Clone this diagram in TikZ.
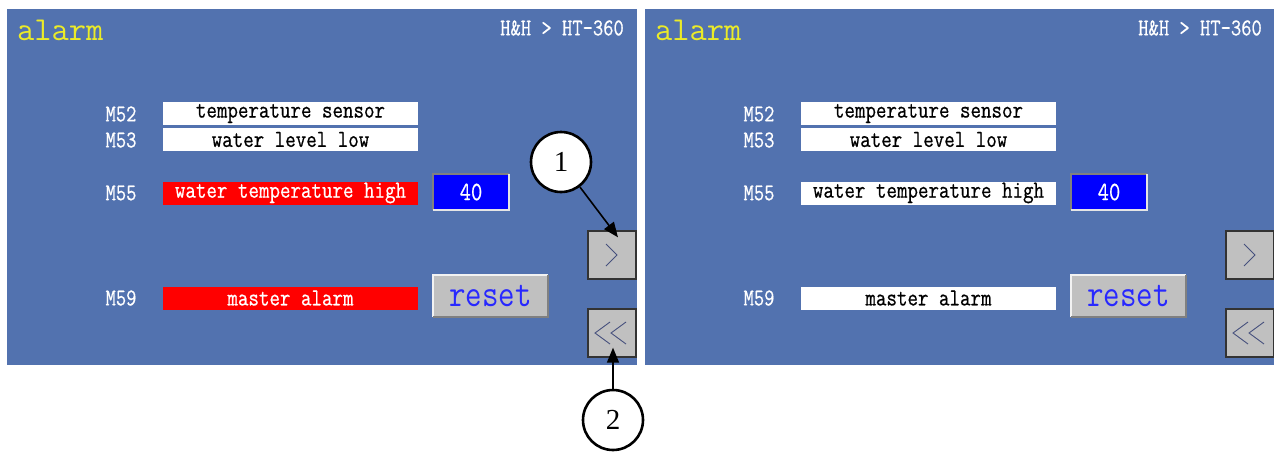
\documentclass[tikz,border=0pt]{standalone}
\usepackage{fontspec}
\usepackage{graphicx}
\setmainfont{Liberation Serif}
\newfontfamily\scrbold{Latin Modern Mono}[FakeBold=0.7]
\newfontfamily\scrthin{Latin Modern Mono}
\usetikzlibrary{arrows.meta,calc}
\definecolor{panelblue}{RGB}{82,114,175}
\definecolor{btngray}{RGB}{192,192,192}
\definecolor{titleyellow}{RGB}{235,235,40}
\definecolor{valblue}{RGB}{0,0,255}
\definecolor{resetblue}{RGB}{40,40,255}
\definecolor{chev}{RGB}{70,80,125}
\newcommand{\scrsize}[1]{\fontsize{#1}{#1}\selectfont}
\newcommand{\tallt}[1]{\scalebox{1}[1.2]{#1}}
\begin{document}
\begin{tikzpicture}[x=1pt,y=-1pt,
  panelbg/.style={fill=panelblue},
  title/.style={font=\scrthin\scrsize{33.5}, text=titleyellow, inner sep=0, anchor=west},
  crumb/.style={font=\scrbold\scrsize{20}, text=white, inner sep=0, anchor=east},
  mlabel/.style={font=\scrbold\scrsize{20}, text=white, inner sep=0},
  field/.style={minimum width=255pt, minimum height=23pt, inner sep=0, font=\scrbold\scrsize{20.4}},
  valbox/.style={fill=valblue, minimum width=76pt, minimum height=36pt, inner sep=0, text=white, font=\scrbold\scrsize{22}},
  resetbtn/.style={fill=btngray, minimum width=115pt, minimum height=42pt, inner sep=0, text=resetblue, font=\scrthin\scrsize{32}},
  navbtn/.style={fill=btngray, draw=black!80, line width=1.3pt, minimum size=48pt, inner sep=0},
  chevron/.style={draw=chev, line width=0.9pt},
  callout/.style={circle, draw=black, line width=2.6pt, fill=white, minimum size=60pt, inner sep=0, font=\fontsize{29}{29}\selectfont},
  link/.style={line width=1.6pt, -{Triangle[length=15pt,width=12pt]}}
]
\useasboundingbox (0,0) rectangle (1274,451);

\foreach \p/\dx/\af/\at in {L/0/red/white, R/638/white/black}{
 \begin{scope}[xshift=\dx pt]
  \fill[panelbg] (7,9) rectangle (637,365);
  \node[title] (\p-title) at (17,30) {alarm};
  \node[crumb] (\p-crumb) at (624,28) {\tallt{H\&H > HT-360}};
  \node[mlabel] (\p-m52) at (121,114) {\tallt{M52}};
  \node[mlabel] (\p-m53) at (121,140) {\tallt{M53}};
  \node[mlabel] (\p-m55) at (121,193) {\tallt{M55}};
  \node[mlabel] (\p-m59) at (121,298) {\tallt{M59}};
  \node[field, fill=white, text=black] (\p-f52) at (290.5,113.5) {\tallt{temperature sensor}};
  \node[field, fill=white, text=black] (\p-f53) at (290.5,139.5) {\tallt{water level low}};
  \node[field, fill=\af, text=\at] (\p-f55) at (290.5,193) {\tallt{water temperature high}};
  \node[field, fill=\af, text=\at] (\p-f59) at (290.5,298) {\tallt{master alarm}};
  \node[valbox] (\p-val) at (471,192) {\tallt{40}};
  \draw[gray, line width=1.5pt] (\p-val.south west) -- (\p-val.north west) -- (\p-val.north east);
  \draw[white!80!gray, line width=1.5pt] (\p-val.north east) -- (\p-val.south east) -- (\p-val.south west);
  \node[resetbtn] (\p-reset) at (490.5,296) {\tallt{reset}};
  \draw[white!90!gray, line width=1.5pt] (\p-reset.south west) -- (\p-reset.north west) -- (\p-reset.north east);
  \draw[gray, line width=1.5pt] (\p-reset.north east) -- (\p-reset.south east) -- (\p-reset.south west);
  \node[navbtn] (\p-next) at (612,255) {};
  \draw[chevron] ($(\p-next)+(-6,-11)$) -- ($(\p-next)+(5,0)$) -- ($(\p-next)+(-6,11)$);
  \node[navbtn] (\p-back) at (612,333) {};
  \draw[chevron] ($(\p-back)+(-2,-11)$) -- ($(\p-back)+(-17,0)$) -- ($(\p-back)+(-2,11)$);
  \draw[chevron] ($(\p-back)+(14,-11)$) -- ($(\p-back)+(-1,0)$) -- ($(\p-back)+(14,11)$);
 \end{scope}
}

\node[callout] (c1) at (561,162) {1};
\node[callout] (c2) at (613,420) {2};
\draw[link] (c1) -- ([xshift=6pt,yshift=-7pt]L-next.north);
\draw[link] (c2) -- ([xshift=1pt,yshift=10pt]L-back.south);
\end{tikzpicture}
\end{document}
